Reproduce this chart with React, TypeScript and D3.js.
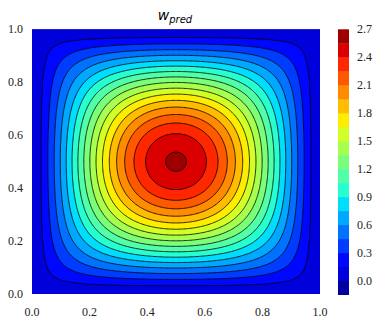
import React from 'react';
import * as d3 from 'd3';

// contour band edges (colorbar runs from the lowest to the highest)
const levels = [-0.15, 0, 0.15, 0.3, 0.45, 0.6, 0.75, 0.9, 1.05, 1.2, 1.35, 1.5, 1.65, 1.8, 1.95, 2.1, 2.25, 2.4, 2.55, 2.7];
// black contour lines
const lineLevels = [0.15, 0.3, 0.45, 0.6, 0.75, 0.9, 1.05, 1.2, 1.35, 1.5, 1.65, 1.8, 1.95, 2.1, 2.25, 2.4, 2.55];
const cbarTicks = [0, 0.3, 0.6, 0.9, 1.2, 1.5, 1.8, 2.1, 2.4, 2.7];
const xTicks = [0, 0.2, 0.4, 0.6, 0.8, 1.0];
const yTicks = [0, 0.2, 0.4, 0.6, 0.8, 1.0];

// shape of the predicted deflection
const peak = 2.57;       // value at the centre (just above 2.55)
const cornerQ = 0.55;    // rounding of the contours near the corners
const profileP = 1.22;   // steepness of the profile along the centre lines
const gridN = 240;

// matplotlib "jet"
const jetR = d3.scaleLinear([0, 0.35, 0.66, 0.89, 1], [0, 0, 1, 1, 0.5]);
const jetG = d3.scaleLinear([0, 0.125, 0.375, 0.64, 0.91, 1], [0, 0, 1, 1, 0, 0]);
const jetB = d3.scaleLinear([0, 0.11, 0.34, 0.65, 1], [0.5, 1, 1, 0, 0]);
const jet = (t: number) =>
  d3.rgb(jetR(t) * 255, jetG(t) * 255, jetB(t) * 255).formatHex();

function field(x: number, y: number) {
  const sx = Math.sin(Math.PI * x);
  const sy = Math.sin(Math.PI * y);
  const g = Math.pow(Math.pow(sx, -cornerQ) + Math.pow(sy, -cornerQ) - 1, -1 / cornerQ);
  return peak * Math.pow(g, profileP);
}

export default function App() {
  const W = 381, H = 328;
  const x = d3.scaleLinear([0, 1], [32, 320]);
  const y = d3.scaleLinear([0, 1], [294, 29.3]);
  const cb = d3.scaleLinear([levels[0], levels[levels.length - 1]], [294.7, 29.3]);

  const nBands = levels.length - 1;
  const bandColor = (i: number) => jet((i + 0.5) / nBands);

  const values = React.useMemo(() => {
    const v = new Array(gridN * gridN);
    for (let j = 0; j < gridN; j++) {
      for (let i = 0; i < gridN; i++) {
        v[j * gridN + i] = field((i + 0.5) / gridN, 1 - (j + 0.5) / gridN);
      }
    }
    return v;
  }, []);

  const contours = d3.contours().size([gridN, gridN]);
  const path = d3.geoPath(
    d3.geoTransform({
      point(gx: number, gy: number) {
        this.stream.point(x(gx / gridN), y(1 - gy / gridN));
      },
    })
  );

  const fills = levels.slice(0, -1).map((t, i) => ({
    d: path(contours.contour(values, t)) || '',
    color: bandColor(i),
  }));
  const lines = lineLevels.map((t) => path(contours.contour(values, t)) || '');

  const tickFont = 'Liberation Serif, Times New Roman, serif';

  return (
    <svg width={W} height={H} style={{ position: 'absolute', left: 0, top: 0, background: '#fff' }}>
      <defs>
        <clipPath id="plotClip">
          <rect x={x(0)} y={y(1)} width={x(1) - x(0)} height={y(0) - y(1)} />
        </clipPath>
      </defs>
      <g clipPath="url(#plotClip)">
        {fills.map((f, i) => (
          <path key={i} d={f.d} fill={f.color} stroke={f.color} strokeWidth={0.3} />
        ))}
        {lines.map((d, i) => (
          <path key={i} d={d} fill="none" stroke="#000" strokeWidth={0.8} />
        ))}
      </g>

      {/* title */}
      <text x={175} y={20} textAnchor="middle" fontFamily="DejaVu Sans" fontSize={14} fill="#000">
        <tspan fontStyle="italic">w</tspan>
        <tspan fontStyle="italic" fontSize={10} dy={3}>pred</tspan>
      </text>

      {/* axis tick labels */}
      {xTicks.map((t) => (
        <text key={t} x={x(t)} y={312} textAnchor="middle" dominantBaseline="central"
          fontFamily={tickFont} fontSize={12} fill="#222">
          {t.toFixed(1)}
        </text>
      ))}
      {yTicks.map((t) => (
        <text key={t} x={23} y={y(t)} textAnchor="end" dominantBaseline="central"
          fontFamily={tickFont} fontSize={12} fill="#222">
          {t.toFixed(1)}
        </text>
      ))}

      {/* colorbar */}
      {levels.slice(0, -1).map((t, i) => (
        <rect key={i} x={338} width={11} y={cb(levels[i + 1])} height={cb(t) - cb(levels[i + 1]) + 0.3}
          fill={bandColor(i)} />
      ))}
      {cbarTicks.map((t) => (
        <text key={t} x={357} y={cb(t)} dominantBaseline="central"
          fontFamily={tickFont} fontSize={12} fill="#222">
          {t.toFixed(1)}
        </text>
      ))}
    </svg>
  );
}
